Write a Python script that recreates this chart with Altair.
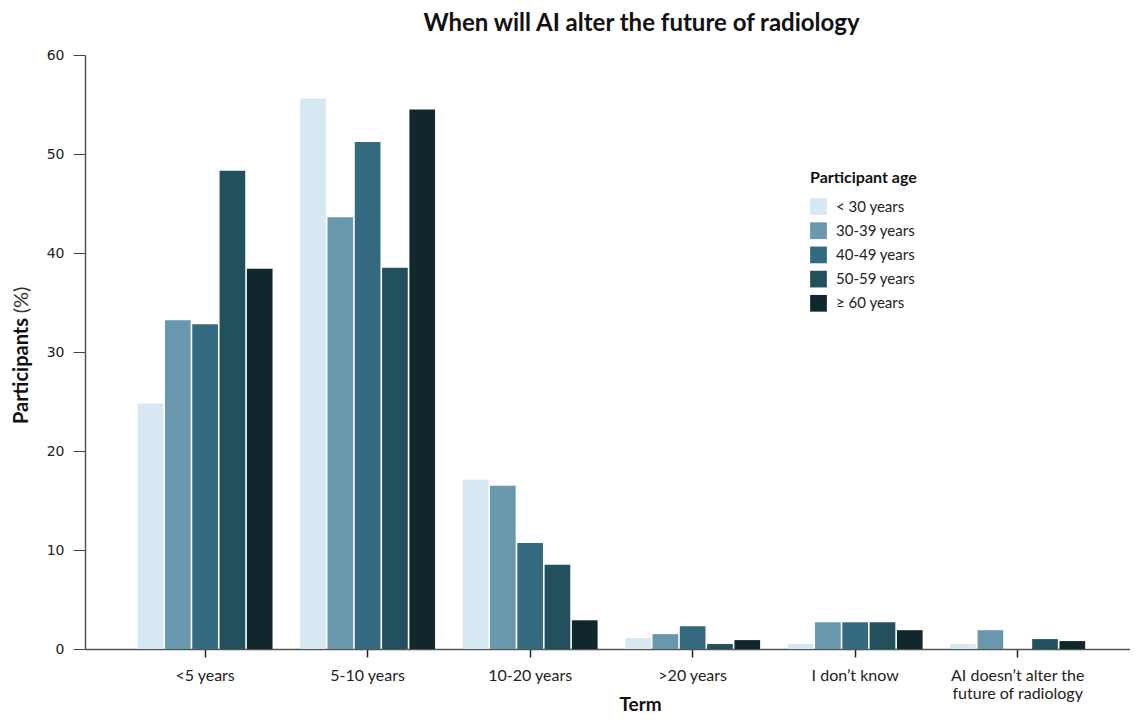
import altair as alt
import pandas as pd

terms = ["<5 years", "5-10 years", "10-20 years", ">20 years", "I don’t know",
         "AI doesn’t alter the future of radiology"]
ages = ["< 30 years", "30-39 years", "40-49 years", "50-59 years", "≥ 60 years"]
colors = ["#d6e8f2", "#6897ae", "#336a80", "#22505c", "#10282c"]

v_under30 = [24.8, 55.6, 17.1, 1.1, 0.5, 0.5]
v_30_39 = [33.2, 43.6, 16.5, 1.5, 2.7, 1.9]
v_40_49 = [32.8, 51.2, 10.7, 2.3, 2.7, 0.0]
v_50_59 = [48.3, 38.5, 8.5, 0.5, 2.7, 1.0]
v_60plus = [38.4, 54.5, 2.9, 0.9, 1.9, 0.8]

series = [v_under30, v_30_39, v_40_49, v_50_59, v_60plus]
rows = []
for age, vals in zip(ages, series):
    for t, v in zip(terms, vals):
        rows.append({"Term": t, "Age": age, "Value": v})
df = pd.DataFrame(rows)

FONT = "Lato"
label_expr = ("datum.label == 'AI doesn’t alter the future of radiology' ? "
              "['AI doesn’t alter the', 'future of radiology'] : datum.label")

bars = alt.Chart(df).mark_bar().encode(
    x=alt.X("Term:N", sort=terms,
            scale=alt.Scale(paddingInner=0.17, paddingOuter=0.3, align=0.54),
            axis=alt.Axis(title="Term", labelExpr=label_expr, labelAngle=0,
                          labelFont=FONT, labelFontSize=16, labelColor="#222",
                          labelPadding=10, tickSize=8, tickColor="#222", tickWidth=1.5,
                          domainColor="#555", domainWidth=1.5,
                          titleFont=FONT, titleFontSize=19, titleFontWeight="bold",
                          titleColor="#111", titleX=555, titleY=55,
                          titleBaseline="middle")),
    xOffset=alt.XOffset("Age:N", sort=ages,
                        scale=alt.Scale(paddingInner=0.06, paddingOuter=0)),
    y=alt.Y("Value:Q", scale=alt.Scale(domain=[0, 60]),
            axis=alt.Axis(title=None, values=[0, 10, 20, 30, 40, 50, 60],
                          grid=False, labelFont="DejaVu Sans", labelFontSize=14,
                          labelColor="#222", labelPadding=9, tickSize=12,
                          tickColor="#444", domainColor="#555", domainWidth=1.5)),
    color=alt.Color("Age:N", sort=ages,
                    scale=alt.Scale(domain=ages, range=colors),
                    legend=alt.Legend(title="Participant age", orient="none",
                                      legendX=725, legendY=115,
                                      titleFont=FONT, titleFontSize=16,
                                      titleFontWeight="bold", titleColor="#111",
                                      titlePadding=12,
                                      labelFont=FONT, labelFontSize=15,
                                      labelColor="#222", labelOffset=9,
                                      symbolType="square", symbolSize=280,
                                      symbolStrokeWidth=0, symbolOpacity=1,
                                      rowPadding=7.2)),
)

ytitle_bold = alt.Chart(pd.DataFrame({"t": ["Participants"]})).mark_text(
    angle=270, font=FONT, fontSize=20, fontWeight="bold", color="#111"
).encode(text="t:N", x=alt.value(-63), y=alt.value(316))

ytitle_pct = alt.Chart(pd.DataFrame({"t": ["(%)"]})).mark_text(
    angle=270, font=FONT, fontSize=20, color="#333"
).encode(text="t:N", x=alt.value(-63), y=alt.value(245))

chart = alt.layer(bars, ytitle_bold, ytitle_pct).properties(
    width=1045, height=594,
    title=alt.TitleParams("When will AI alter the future of radiology",
                          font=FONT, fontSize=24, fontWeight="bold",
                          color="#111", anchor="middle", dx=34, offset=12),
    autosize=alt.AutoSizeParams(type="none"),
    padding={"left": 77, "top": 47, "right": 0, "bottom": 67},
).configure(background="white", view=alt.ViewConfig(stroke=None))

chart.save("out.html", embed_options={"renderer": "svg", "actions": False})
